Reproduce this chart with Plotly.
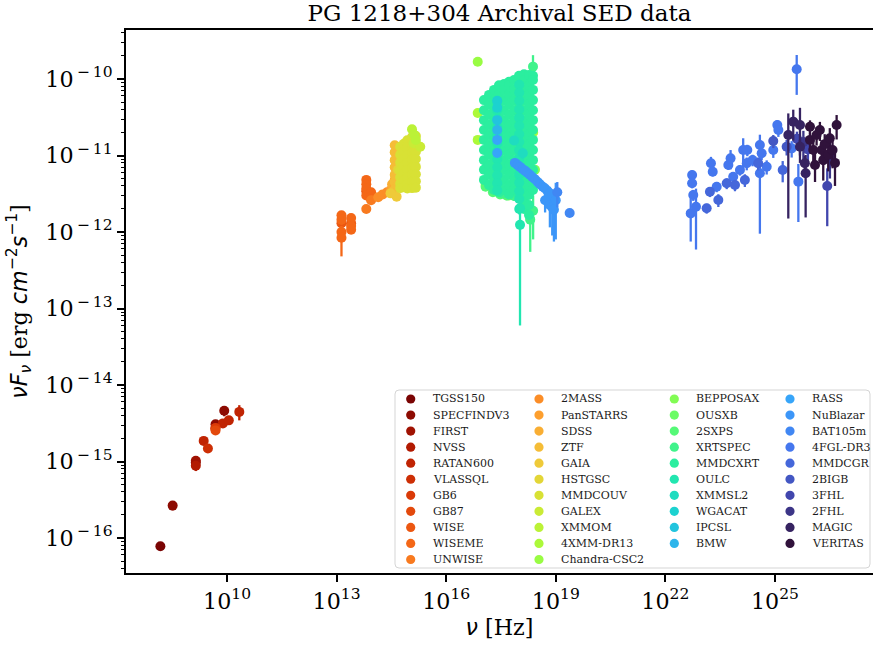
import plotly.graph_objects as go

# ---------------- tick labels ----------------
x_tick_exponents = [10, 13, 16, 19, 22, 25]
y_tick_exponents = [-16, -15, -14, -13, -12, -11, -10]

# ---------------- data (frequency [Hz], nuFnu [erg cm^-2 s^-1], error) ----------------
tgss150_nu = [1.5e8]
tgss150_f = [7.8e-17]
tgss150_e = [4e-18]

specfindv3_nu = [3.25e8, 1.4e9, 4.85e9, 8.4e9]
specfindv3_f = [2.65e-16, 9.7e-16, 3.06e-15, 4.6e-15]
specfindv3_e = [3.5e-17, 8e-17, 3e-16, 7e-16]

first_nu = [1.4e9]
first_f = [1.02e-15]
first_e = [5e-17]

nvss_nu = [1.4e9]
nvss_f = [8.8e-16]
nvss_e = [1.3e-16]

ratan600_nu = [2.3e9, 4.8e9, 7.7e9, 1.12e10, 2.17e10]
ratan600_f = [1.86e-15, 2.7e-15, 3.15e-15, 3.45e-15, 4.45e-15]
ratan600_e = [1e-16, 2e-16, 2e-16, 2e-16, 1e-15]

vlassql_nu = [3.0e9]
vlassql_f = [1.48e-15]
vlassql_e = [8e-17]

gb6_nu = [4.85e9]
gb6_f = [2.75e-15]
gb6_e = [2.5e-16]

gb87_nu = [4.85e9]
gb87_f = [2.55e-15]
gb87_e = [3e-16]

wise_nu = [1.36e13, 2.5e13, 6.5e13, 8.8e13]
wise_f = [1.3e-12, 1.3e-12, 3.4e-12, 2.7e-12]
wise_e = [2.5e-13, 1.3e-13, 2e-13, 1.5e-13]

wiseme_nu = [1.36e13, 1.36e13, 1.36e13, 1.36e13, 2.5e13, 2.5e13, 2.5e13,
             6.5e13, 6.5e13, 6.5e13, 6.5e13, 8.8e13, 8.8e13]
wiseme_f = [1.65e-12, 1.45e-12, 1.0e-12, 8.4e-13, 1.52e-12, 1.2e-12, 1.07e-12,
            4.8e-12, 4.2e-12, 3.7e-12, 3.0e-12, 3.3e-12, 2.9e-12]
wiseme_e = [2e-13, 2e-13, 2e-13, 3.6e-13, 1.5e-13, 1.2e-13, 1.2e-13,
            3e-13, 3e-13, 2.5e-13, 2e-13, 2e-13, 2e-13]

unwise_nu = [6.5e13, 8.8e13]
unwise_f = [2.0e-12, 2.6e-12]
unwise_e = [1e-13, 1e-13]

twomass_nu = [1.38e14, 1.82e14, 2.4e14]
twomass_f = [2.85e-12, 3.1e-12, 3.3e-12]
twomass_e = [1.2e-13, 1.2e-13, 1.2e-13]

panstarrs_nu = [3.1e14, 3.5e14, 4.0e14, 4.8e14, 6.3e14]
panstarrs_f = [3.55e-12, 3.9e-12, 4.3e-12, 4.9e-12, 5.8e-12]
panstarrs_e = [1e-13, 1e-13, 1e-13, 1e-13, 1e-13]

sdss_nu = [3.3e14, 3.9e14, 4.8e14, 6.3e14, 8.3e14]
sdss_f = [4.2e-12, 4.8e-12, 5.6e-12, 6.5e-12, 7.4e-12]
sdss_e = [1e-13, 1e-13, 1e-13, 1e-13, 1e-13]

ztf_nu = [3.9e14, 3.9e14, 3.9e14, 3.9e14, 3.9e14, 3.9e14, 3.9e14,
          4.8e14, 4.8e14, 4.8e14, 4.8e14]
ztf_f = [1.36e-11, 1.1e-11, 8.7e-12, 7.0e-12, 5.6e-12, 4.5e-12, 3.6e-12,
         1.2e-11, 9e-12, 6e-12, 4e-12]
ztf_e = [4e-13, 4e-13, 4e-13, 3e-13, 3e-13, 2e-13, 2e-13, 4e-13, 3e-13, 3e-13, 2e-13]

gaia_nu = [4.4e14, 3.0e14, 5.9e14]
gaia_f = [2.9e-12, 3.2e-12, 3.9e-12]
gaia_e = [5e-14, 5e-14, 5e-14]

hstgsc_nu = [4.8e14, 6.3e14]
hstgsc_f = [6.5e-12, 8e-12]
hstgsc_e = [5e-13, 5e-13]

mmdcouv_nu = [5.5e14, 5.5e14, 5.5e14, 5.5e14, 5.5e14, 5.5e14, 5.5e14,
              6.9e14, 6.9e14, 6.9e14, 6.9e14, 6.9e14, 6.9e14, 6.9e14,
              8.6e14, 8.6e14, 8.6e14, 8.6e14, 8.6e14, 8.6e14, 8.6e14, 8.6e14,
              1.16e15, 1.16e15, 1.16e15, 1.16e15, 1.16e15, 1.16e15, 1.16e15, 1.16e15,
              1.34e15, 1.34e15, 1.34e15, 1.34e15, 1.34e15, 1.34e15, 1.34e15, 1.34e15,
              1.48e15, 1.48e15, 1.48e15, 1.48e15, 1.48e15, 1.48e15, 1.48e15, 1.48e15]
mmdcouv_f = [1.3e-11, 1.02e-11, 8.1e-12, 6.4e-12, 5.2e-12, 4.3e-12, 3.75e-12,
             1.42e-11, 1.12e-11, 9.0e-12, 7.2e-12, 5.8e-12, 4.7e-12, 3.85e-12,
             1.58e-11, 1.26e-11, 1.0e-11, 8.0e-12, 6.4e-12, 5.1e-12, 4.2e-12, 3.7e-12,
             1.74e-11, 1.38e-11, 1.1e-11, 8.8e-12, 7.0e-12, 5.6e-12, 4.5e-12, 3.75e-12,
             1.85e-11, 1.45e-11, 1.15e-11, 9.2e-12, 7.3e-12, 5.8e-12, 4.7e-12, 3.85e-12,
             1.8e-11, 1.42e-11, 1.12e-11, 9.0e-12, 7.1e-12, 5.7e-12, 4.6e-12, 3.8e-12]
mmdcouv_e_pct = 4

galex_nu = [1.29e15, 1.95e15]
galex_f = [1.45e-11, 1.3e-11]
galex_e = [1e-12, 1.2e-12]

xmmom_nu = [1.16e15, 1.34e15, 1.48e15]
xmmom_f = [2.2e-11, 1.85e-11, 1.6e-11]
xmmom_e = [8e-13, 8e-13, 8e-13]

xmm4_nu = [7.3e16, 7.3e16, 1.2e17, 2.4e17, 4.8e17, 1.2e18, 2.4e18]
xmm4_f = [3.6e-11, 1.6e-11, 4.1e-12, 8e-12, 1.1e-11, 1.5e-11, 2.0e-11]
xmm4_e = [2e-12, 1.5e-12, 4e-13, 5e-13, 8e-13, 1.5e-12, 3e-12]

chandra_nu = [7.3e16, 2.4e17, 9.7e17]
chandra_f = [1.68e-10, 6e-11, 4e-11]
chandra_e = [6e-12, 3e-12, 4e-12]

bepposax_nu = [5.2e17, 2.7e18]
bepposax_f = [3.0e-12, 6.5e-12]
bepposax_e = [3e-13, 6e-13]

ousxb_nu = [2.4e17, 2.4e17]
ousxb_f = [2.5e-11, 1.2e-11]
ousxb_e = [2e-12, 1e-12]

sxps2_nu = [1.2e17, 1.9e17, 3.0e17, 4.5e17]
sxps2_f = [3.9e-12, 3.3e-12, 3.1e-12, 3.0e-12]
sxps2_e = [3e-13, 3e-13, 3e-13, 4e-13]

xrtspec_nu = [2.38e18, 2.0e18, 2.4e18, 1.6e18, 1.25e18, 7.2e17, 3.5e17]
xrtspec_f = [1.45e-10, 1.45e-12, 1.9e-12, 2.2e-12, 2.6e-12, 2.95e-12, 3.2e-12]
xrtspec_e = [6e-11, 9e-13, 1.1e-12, 8e-13, 6e-13, 4e-13, 3e-13]

mmdcxrt_nu = ([1.08e17] * 9 + [1.49e17] * 10 + [2.04e17] * 11 + [2.79e17] * 12
              + [3.83e17] * 12 + [5.25e17] * 13 + [7.2e17] * 12 + [9.86e17] * 13
              + [1.35e18] * 15 + [1.85e18] * 15 + [2.38e18] * 13)
mmdcxrt_f = [5.3e-11, 3.9e-11, 2.9e-11, 2.15e-11, 1.6e-11, 1.18e-11, 8.7e-12, 6.5e-12, 4.8e-12,
             6.2e-11, 4.6e-11, 3.4e-11, 2.5e-11, 1.85e-11, 1.37e-11, 1.02e-11, 7.5e-12, 5.6e-12, 4.1e-12,
             7.2e-11, 5.3e-11, 3.9e-11, 2.9e-11, 2.15e-11, 1.6e-11, 1.18e-11, 8.7e-12, 6.5e-12, 4.8e-12, 3.55e-12,
             8.3e-11, 6.2e-11, 4.6e-11, 3.4e-11, 2.5e-11, 1.85e-11, 1.37e-11, 1.02e-11, 7.5e-12, 5.6e-12, 4.1e-12, 3.3e-12,
             8.6e-11, 7.2e-11, 5.3e-11, 3.9e-11, 2.9e-11, 2.15e-11, 1.6e-11, 1.18e-11, 8.7e-12, 6.5e-12, 4.8e-12, 3.55e-12,
             9.2e-11, 8.3e-11, 6.2e-11, 4.6e-11, 3.4e-11, 2.5e-11, 1.85e-11, 1.37e-11, 1.02e-11, 7.5e-12, 5.6e-12, 4.1e-12, 3.1e-12,
             9.7e-11, 7.2e-11, 5.3e-11, 3.9e-11, 2.9e-11, 2.15e-11, 1.6e-11, 1.18e-11, 8.7e-12, 6.5e-12, 4.8e-12, 3.55e-12,
             1.1e-10, 8.3e-11, 6.2e-11, 4.6e-11, 3.4e-11, 2.5e-11, 1.85e-11, 1.37e-11, 1.02e-11, 7.5e-12, 5.6e-12, 4.1e-12, 3.05e-12,
             1.15e-10, 9.7e-11, 7.2e-11, 5.3e-11, 3.9e-11, 2.9e-11, 2.15e-11, 1.6e-11, 1.18e-11, 8.7e-12, 6.5e-12, 4.8e-12, 3.55e-12, 2.6e-12, 2.0e-12,
             1.13e-10, 8.3e-11, 6.2e-11, 4.6e-11, 3.4e-11, 2.5e-11, 1.85e-11, 1.37e-11, 1.02e-11, 7.5e-12, 5.6e-12, 4.1e-12, 3.05e-12, 2.25e-12, 1.67e-12,
             1.1e-10, 9.7e-11, 7.2e-11, 5.3e-11, 3.9e-11, 2.9e-11, 2.15e-11, 1.6e-11, 1.18e-11, 8.7e-12, 6.5e-12, 4.8e-12, 3.55e-12]
mmdcxrt_e_pct = 8

oulc_nu = ([2.5e17] * 12 + [1.0e18] * 16 + [1.05e18, 1.05e18])
oulc_f = [5.0e-11, 3.9e-11, 3.0e-11, 2.35e-11, 1.85e-11, 1.45e-11, 1.13e-11, 8.9e-12, 7.0e-12, 5.5e-12, 4.35e-12, 3.5e-12,
          8.4e-11, 6.6e-11, 5.2e-11, 4.0e-11, 3.1e-11, 2.45e-11, 1.9e-11, 1.5e-11, 1.17e-11, 9.1e-12, 7.1e-12, 5.6e-12,
          4.4e-12, 3.4e-12, 2.7e-12, 2.0e-12,
          1.24e-12, 2.04e-12]
oulc_e = [2e-12, 2e-12, 1.5e-12, 1.2e-12, 1e-12, 8e-13, 6e-13, 5e-13, 4e-13, 3e-13, 3e-13, 3e-13,
          3e-12, 3e-12, 2.5e-12, 2e-12, 1.5e-12, 1.2e-12, 1e-12, 8e-13, 6e-13, 5e-13, 4e-13, 3e-13,
          3e-13, 3e-13, 3e-13, 3e-13,
          1.18e-12, 3e-13]

xmmsl2_nu = [7.2e17, 1.25e18]
xmmsl2_f = [1.57e-11, 1.07e-11]
xmmsl2_e = [1.5e-12, 1.5e-12]

wgacat_nu = [2.5e17, 2.5e17]
wgacat_f = [5.2e-11, 4.2e-11]
wgacat_e = [3e-12, 3e-12]

ipcsl_nu = [2.5e17]
ipcsl_f = [2.9e-11]
ipcsl_e = [2.5e-12]

bmw_nu = [2.5e17]
bmw_f = [2.15e-11]
bmw_e = [2e-12]

rass_nu = [2.5e17, 2.5e17]
rass_f = [1.6e-11, 1.08e-11]
rass_e = [1e-12, 1e-12]

nublazar_nu = [7.6e17, 9.0e17, 1.05e18, 1.25e18, 1.45e18, 1.7e18, 1.95e18, 2.3e18, 2.7e18, 3.2e18,
               3.7e18, 4.4e18, 5.1e18, 5.1e18, 6.0e18, 6.9e18, 6.9e18, 8.0e18, 8.9e18, 1.0e19]
nublazar_f = [8.0e-12, 7.5e-12, 7.1e-12, 6.6e-12, 6.3e-12, 5.9e-12, 5.6e-12, 5.2e-12, 4.9e-12, 4.5e-12,
              4.2e-12, 3.9e-12, 3.7e-12, 2.6e-12, 3.4e-12, 3.2e-12, 2.25e-12, 2.1e-12, 1.95e-12, 2.6e-12]
nublazar_e = [2e-13, 2e-13, 2e-13, 2e-13, 2e-13, 2.5e-13, 2.5e-13, 3e-13, 3e-13, 3.5e-13,
              4e-13, 5e-13, 5e-13, 8e-13, 6e-13, 7e-13, 1.1e-12, 1.2e-12, 1.2e-12, 1.8e-12]

bat105m_nu = [1.1e19, 2.4e19]
bat105m_f = [3.3e-12, 1.77e-12]
bat105m_e = [1.2e-12, 1.5e-13]

fgl_nu = [4.94e22, 5.4e22, 5.4e22, 5.8e22, 6.9e22, 1.77e23, 1.98e23, 2.54e23, 5.3e23, 6.1e23,
          7.2e23, 1.1e24, 1.35e24, 1.75e24, 1.69e24, 2.44e24, 3.87e24, 3.87e24, 4.33e24, 5.94e24,
          9.0e24, 1.16e25, 1.24e25, 2.87e25, 3.94e25, 4.37e25]
fgl_f = [1.75e-12, 5.56e-12, 4.33e-12, 3.05e-12, 2.14e-12, 7.9e-12, 6.14e-12, 3.91e-12, 7.51e-12, 9.18e-12,
         5.28e-12, 6.46e-12, 1.18e-11, 1.18e-11, 7.9e-12, 8.73e-12, 1.37e-11, 5.85e-12, 1.07e-11, 7.14e-12,
         1.18e-11, 2.5e-11, 2.15e-11, 1.24e-11, 1.34e-10, 4.55e-12]
fgl_e = [1.0e-12, 8e-13, 6e-13, 5e-13, 1.55e-12, 1.7e-12, 8e-13, 6e-13, 1e-12, 2.6e-12,
         8e-13, 1e-12, 5e-12, 2e-12, 1.5e-12, 1.5e-12, 5e-12, 4.9e-12, 2e-12, 1.5e-12,
         2.5e-12, 4e-12, 4e-12, 3e-12, 7.2e-11, 3.2e-12]

mmdcgr_nu = [1.35e23, 1.66e23, 2.82e23, 4.78e23, 8.05e23, 1.5e24, 3.47e24, 1.63e25]
mmdcgr_f = [2.04e-12, 3.36e-12, 2.62e-12, 4.33e-12, 4.11e-12, 4.78e-12, 7.9e-12, 6.46e-12]
mmdcgr_e = [3e-13, 5e-13, 5e-13, 7e-13, 7e-13, 9e-13, 1.5e-12, 2e-12]

bigb2_nu = [2.09e25, 9.0e24]
bigb2_f = [1.3e-11, 1.55e-11]
bigb2_e = [3e-12, 3e-12]

fhl3_nu = [2.7e26, 4.0e25, 8.0e25]
fhl3_f = [3.99e-12, 1.65e-11, 1.2e-11]
fhl3_e = [2.8e-12, 4e-12, 4e-12]

fhl2_nu = [6.0e25, 3.2e26]
fhl2_f = [1.5e-11, 1.0e-11]
fhl2_e = [6e-12, 5e-12]

magic_nu = [2.32e25, 3.17e25, 4.84e25, 4.84e25, 6.92e25, 6.6e25]
magic_f = [1.85e-11, 2.77e-11, 2.5e-11, 1.3e-11, 5.85e-12, 7.9e-12]
magic_e = [1.7e-11, 1.2e-11, 1.7e-11, 3e-12, 4.3e-12, 2e-12]

veritas_nu = [9.1e25, 9.1e25, 1.12e26, 1.25e26, 1.38e26, 1.7e26, 1.9e26, 2.1e26, 2.3e26, 2.87e26,
              3.17e26, 3.77e26, 4.4e26, 4.88e26]
veritas_f = [2.38e-11, 1.6e-11, 1.18e-11, 7.5e-12, 1.85e-11, 2.15e-11, 1.18e-11, 8.7e-12, 1.4e-11, 1.02e-11,
             1.68e-11, 1.18e-11, 8.0e-12, 2.5e-11]
veritas_e = [5e-12, 4e-12, 4e-12, 3e-12, 5e-12, 6e-12, 4e-12, 4e-12, 5e-12, 4e-12,
             6e-12, 5e-12, 4e-12, 8.8e-12]

catalog_names = ["TGSS150", "SPECFINDV3", "FIRST", "NVSS", "RATAN600", "VLASSQL", "GB6", "GB87",
                 "WISE", "WISEME", "UNWISE", "2MASS", "PanSTARRS", "SDSS", "ZTF", "GAIA", "HSTGSC",
                 "MMDCOUV", "GALEX", "XMMOM", "4XMM-DR13", "Chandra-CSC2", "BEPPOSAX", "OUSXB",
                 "2SXPS", "XRTSPEC", "MMDCXRT", "OULC", "XMMSL2", "WGACAT", "IPCSL", "BMW", "RASS",
                 "NuBlazar", "BAT105m", "4FGL-DR3", "MMDCGR", "2BIGB", "3FHL", "2FHL", "MAGIC", "VERITAS"]

catalog_data = [
    (tgss150_nu, tgss150_f, tgss150_e), (specfindv3_nu, specfindv3_f, specfindv3_e),
    (first_nu, first_f, first_e), (nvss_nu, nvss_f, nvss_e), (ratan600_nu, ratan600_f, ratan600_e),
    (vlassql_nu, vlassql_f, vlassql_e), (gb6_nu, gb6_f, gb6_e), (gb87_nu, gb87_f, gb87_e),
    (wise_nu, wise_f, wise_e), (wiseme_nu, wiseme_f, wiseme_e), (unwise_nu, unwise_f, unwise_e),
    (twomass_nu, twomass_f, twomass_e), (panstarrs_nu, panstarrs_f, panstarrs_e),
    (sdss_nu, sdss_f, sdss_e), (ztf_nu, ztf_f, ztf_e), (gaia_nu, gaia_f, gaia_e),
    (hstgsc_nu, hstgsc_f, hstgsc_e), (mmdcouv_nu, mmdcouv_f, mmdcouv_e_pct),
    (galex_nu, galex_f, galex_e), (xmmom_nu, xmmom_f, xmmom_e), (xmm4_nu, xmm4_f, xmm4_e),
    (chandra_nu, chandra_f, chandra_e), (bepposax_nu, bepposax_f, bepposax_e),
    (ousxb_nu, ousxb_f, ousxb_e), (sxps2_nu, sxps2_f, sxps2_e), (xrtspec_nu, xrtspec_f, xrtspec_e),
    (mmdcxrt_nu, mmdcxrt_f, mmdcxrt_e_pct), (oulc_nu, oulc_f, oulc_e), (xmmsl2_nu, xmmsl2_f, xmmsl2_e),
    (wgacat_nu, wgacat_f, wgacat_e), (ipcsl_nu, ipcsl_f, ipcsl_e), (bmw_nu, bmw_f, bmw_e),
    (rass_nu, rass_f, rass_e), (nublazar_nu, nublazar_f, nublazar_e),
    (bat105m_nu, bat105m_f, bat105m_e), (fgl_nu, fgl_f, fgl_e), (mmdcgr_nu, mmdcgr_f, mmdcgr_e),
    (bigb2_nu, bigb2_f, bigb2_e), (fhl3_nu, fhl3_f, fhl3_e), (fhl2_nu, fhl2_f, fhl2_e),
    (magic_nu, magic_f, magic_e), (veritas_nu, veritas_f, veritas_e),
]

# ---------------- colours: reversed turbo colormap ----------------
TURBO = ["#30123b", "#4145ab", "#4675ed", "#39a2fc", "#1bcfd4", "#24eca6", "#61fc6c", "#a4fc3b",
         "#d1e834", "#f3c63a", "#fe9b2d", "#f36315", "#d93806", "#b11901", "#7a0403"]


def turbo(t):
    n = len(TURBO) - 1
    pos = max(0.0, min(1.0, t)) * n
    i = min(int(pos), n - 1)
    fr = pos - i
    a = [int(TURBO[i][k:k + 2], 16) for k in (1, 3, 5)]
    b = [int(TURBO[i + 1][k:k + 2], 16) for k in (1, 3, 5)]
    return "rgb(%d,%d,%d)" % tuple(round(a[j] + (b[j] - a[j]) * fr) for j in range(3))


N = len(catalog_names)
colors = [turbo(1 - i / (N - 1)) for i in range(N)]

# ---------------- geometry ----------------
W, H = 873, 648
L, T, B, R = 126, 30, 75, 0
PW, PH = W - L - R, H - T - B

FONT = "DejaVu Serif"
MATH = "DejaVu Sans"
FS = 22.2

fig = go.Figure()
for name, (nu, f, e), c in zip(catalog_names, catalog_data, colors):
    if isinstance(e, (int, float)):
        err = dict(type="percent", value=e, visible=True, width=0, thickness=2.3, color=c)
    else:
        err = dict(type="data", array=e, visible=True, width=0, thickness=2.3, color=c)
    fig.add_trace(go.Scatter(x=nu, y=f, mode="markers", name=name, showlegend=False,
                             marker=dict(size=10, color=c, line=dict(width=0)),
                             error_y=err))


def px_x(px):
    return (px - L) / PW


def px_y(py):
    return (H - B - py) / PH


# manual legend (4 columns, column-major like matplotlib)
col_sizes = [11, 11, 10, 10]
marker_px = [410.7, 539.0, 674.3, 790.0]
text_px = [430.7, 559.3, 694.3, 810.0]
row0, drow = 399.0, 16.05

bx0, bx1, by0, by1 = 395, 870, 390, 568
rx, ry = 4 / PW, 4 / PH
X0, X1, Y0, Y1 = px_x(bx0), px_x(bx1), px_y(by1), px_y(by0)
box_path = (f"M {X0 + rx},{Y1} L {X1 - rx},{Y1} Q {X1},{Y1} {X1},{Y1 - ry} "
            f"L {X1},{Y0 + ry} Q {X1},{Y0} {X1 - rx},{Y0} L {X0 + rx},{Y0} "
            f"Q {X0},{Y0} {X0},{Y0 + ry} L {X0},{Y1 - ry} Q {X0},{Y1} {X0 + rx},{Y1} Z")
shapes = [dict(type="path", xref="paper", yref="paper", path=box_path,
               fillcolor="rgba(255,255,255,0.8)", line=dict(color="#d5d5d5", width=1))]
annotations = []
k = 0
for ci, cs in enumerate(col_sizes):
    for r in range(cs):
        py = row0 + r * drow
        shapes.append(dict(type="circle", xref="paper", yref="paper", xsizemode="pixel", ysizemode="pixel",
                           xanchor=px_x(marker_px[ci]), yanchor=px_y(py), x0=-4.6, x1=4.6, y0=-4.6, y1=4.6,
                           fillcolor=colors[k], line=dict(width=0)))
        annotations.append(dict(xref="paper", yref="paper", x=px_x(text_px[ci]), y=px_y(py),
                                xanchor="left", yanchor="middle", showarrow=False, text=catalog_names[k],
                                font=dict(family=FONT, size=11, color="#1a1a1a")))
        k += 1


def pow_label(p):
    if p < 0:
        return "10<sup>\u2009−\u2009%d</sup>" % abs(p)
    return "10<sup>%d</sup>" % p


axis_common = dict(showgrid=False, zeroline=False, showline=True, linecolor="black", linewidth=2,
                   ticks="outside", tickcolor="black", tickwidth=1.5, ticklen=7, automargin=False,
                   tickmode="array", tickfont=dict(family=FONT, size=FS, color="black"))

fig.update_layout(
    width=W, height=H,
    margin=dict(l=L, r=R, t=T, b=B, pad=0, autoexpand=False),
    paper_bgcolor="white", plot_bgcolor="white",
    showlegend=False,
    title=dict(text="PG 1218+304 Archival SED data", x=0.5, xref="paper", xanchor="center",
               y=1 - 13 / H, yref="container", yanchor="middle", automargin=False,
               font=dict(family=FONT, size=23, color="black")),
    xaxis=dict(type="log", range=[7.235, 27.684], mirror=True,
               tickvals=[10.0 ** p for p in x_tick_exponents],
               ticktext=[pow_label(p) for p in x_tick_exponents],
               title=dict(text='<span style="font-family:\'%s\'"><i>ν</i></span> [Hz]' % MATH,
                          font=dict(family=FONT, size=FS, color="black"), standoff=6),
               **axis_common),
    yaxis=dict(type="log", range=[-16.4575, -9.3595], mirror=False,
               tickvals=[10.0 ** p for p in y_tick_exponents],
               ticktext=[pow_label(p) for p in y_tick_exponents],
               minor=dict(ticks="outside", ticklen=3.5, tickwidth=1, tickcolor="black", dtick="D1",
                          showgrid=False),
               title=dict(text=('<span style="font-family:\'%s\'"><i>νF</i><sub><i>ν</i></sub></span>'
                                ' [erg <span style="font-family:\'%s\'"><i>cm</i><sup>−2</sup>'
                                '<i>s</i><sup>−1</sup></span>]') % (MATH, MATH),
                          font=dict(family=FONT, size=FS, color="black"), standoff=12),
               **axis_common),
    shapes=shapes,
    annotations=annotations,
)

fig.write_html("out.html", config={"displayModeBar": False},
               post_script="document.body.style.margin='0px';document.body.style.padding='0px';")
